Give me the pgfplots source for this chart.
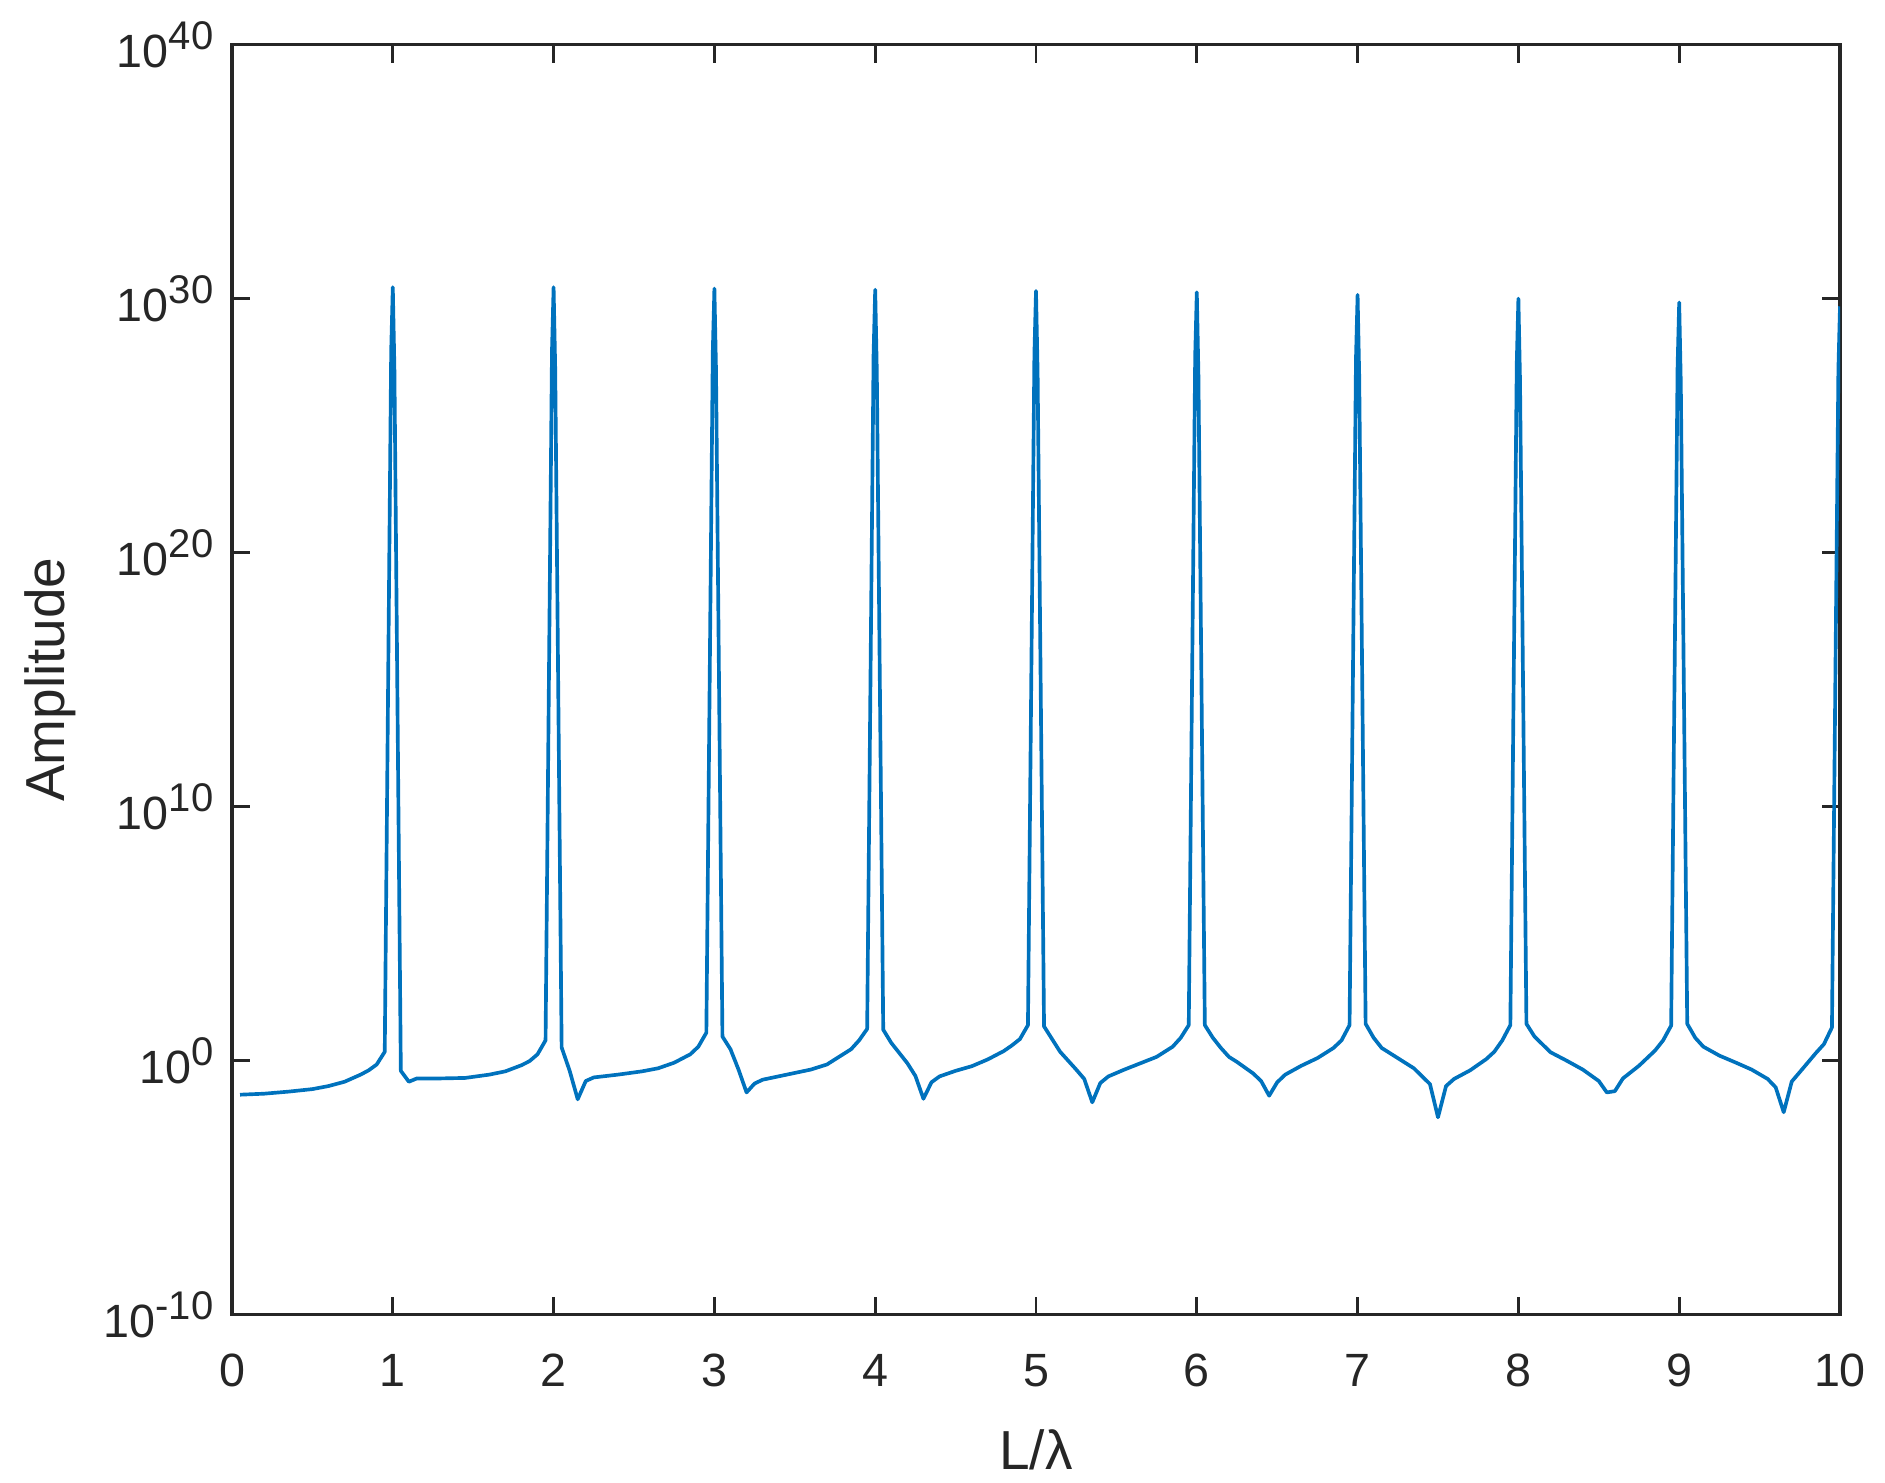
\documentclass[border=0pt]{standalone}
\usepackage{fontspec}
\setmainfont{Liberation Sans}
\usepackage{pgfplots}
\pgfplotsset{compat=1.18}
\definecolor{mblue}{rgb}{0,0.447,0.741}
\definecolor{axgray}{rgb}{0.15,0.15,0.15}
% MATLAB-like power-of-ten label
\newcommand{\ex}[1]{10\raisebox{5.2pt}{\fontsize{12}{12}\selectfont #1}}

\begin{document}
\begin{tikzpicture}
\begin{axis}[
  scale only axis,
  width=482.4pt, height=381pt,
  xmin=0, xmax=10, ymin=1e-10, ymax=1e40,
  ymode=log,
  xtick={0,1,...,10},
  xticklabels={0,1,2,3,4,5,6,7,8,9,10},
  ytick={1e-10,1e0,1e10,1e20,1e30,1e40},
  yticklabels={\ex{-10},\ex{0},\ex{10},\ex{20},\ex{30},\ex{40}},
  yminorticks=false,
  tick align=inside,
  major tick length=5.4pt,
  axis line style={axgray, line width=1pt},
  tick style={axgray, line width=0.8pt},
  ticklabel style={font=\fontsize{14}{14}\selectfont, text=axgray},
  xticklabel style={anchor=center, yshift=-16.8pt},
  yticklabel style={anchor=east, inner sep=0pt, xshift=-5.4pt},
  xlabel={L/λ}, ylabel={Amplitude},
  every axis x label/.style={at={(axis description cs:0.5,-0.1063)}, anchor=center,
    font=\fontsize{16.5}{16.5}\selectfont, text=axgray},
  every axis y label/.style={at={(axis description cs:-0.113,0.5)}, anchor=center, rotate=90,
    font=\fontsize{16.5}{16.5}\selectfont, text=axgray},
]
\addplot[mblue, line width=1.1pt, line join=round] table {
x y
0.05 0.0457
0.20 0.0501
0.35 0.0603
0.50 0.0759
0.60 0.1
0.70 0.148
0.80 0.282
0.85 0.417
0.90 0.708
0.95 2.24
0.99 8.9e27
1.00 2.82e30
1.01 1.8e27
1.05 0.398
1.10 0.148
1.15 0.200
1.30 0.200
1.45 0.209
1.60 0.282
1.70 0.380
1.80 0.661
1.85 0.955
1.90 1.78
1.95 6.31
1.99 9e27
2.00 2.82e30
2.01 1.8e27
2.05 3.31
2.10 0.398
2.15 0.0302
2.20 0.158
2.25 0.219
2.40 0.282
2.55 0.380
2.65 0.501
2.75 0.832
2.85 1.78
2.90 3.55
2.95 12.6
2.99 8e27
3.00 2.51e30
3.01 1.6e27
3.05 8.91
3.10 2.82
3.15 0.447
3.20 0.0562
3.25 0.126
3.30 0.178
3.45 0.282
3.60 0.447
3.70 0.708
3.80 1.78
3.85 2.82
3.90 6.31
3.95 17.8
3.99 7e27
4.00 2.24e30
4.01 1.4e27
4.05 16.6
4.10 5.01
4.15 2.00
4.20 0.794
4.25 0.251
4.30 0.0316
4.35 0.141
4.40 0.240
4.50 0.398
4.60 0.603
4.70 1.12
4.80 2.40
4.85 3.98
4.90 7.08
4.95 25.1
4.99 6.3e27
5.00 2.0e30
5.01 1.3e27
5.05 22.4
5.10 7.08
5.15 2.24
5.20 1.0
5.25 0.447
5.30 0.191
5.35 0.0229
5.40 0.132
5.45 0.240
5.55 0.447
5.65 0.794
5.75 1.41
5.85 3.55
5.90 7.94
5.95 25.1
5.99 5.6e27
6.00 1.78e30
6.01 1.1e27
6.05 25.1
6.10 7.94
6.15 3.16
6.20 1.41
6.25 0.891
6.35 0.316
6.40 0.158
6.45 0.0417
6.50 0.141
6.55 0.282
6.65 0.631
6.75 1.26
6.85 3.16
6.90 6.31
6.95 25.1
6.99 4.5e27
7.00 1.41e30
7.01 9e26
7.05 28.2
7.10 7.94
7.15 3.16
7.25 1.26
7.35 0.501
7.45 0.120
7.50 0.00589
7.55 0.1
7.60 0.191
7.70 0.417
7.80 1.15
7.85 2.24
7.90 6.31
7.95 25.1
7.99 3.2e27
8.00 1.0e30
8.01 6.3e26
8.05 28.2
8.10 8.91
8.20 2.14
8.30 1.0
8.40 0.447
8.50 0.158
8.55 0.0562
8.60 0.0631
8.65 0.200
8.75 0.631
8.85 2.51
8.90 6.31
8.95 24.0
8.99 2.2e27
9.00 7.08e29
9.01 4.5e26
9.05 28.2
9.10 7.94
9.15 3.55
9.25 1.58
9.35 0.851
9.45 0.447
9.55 0.191
9.60 0.0891
9.65 0.00933
9.70 0.151
9.75 0.355
9.85 2.00
9.90 4.47
9.95 20.4
9.99 1.6e27
10.00 5.01e29
};
\coordinate (sw) at (rel axis cs:0,0);
\coordinate (ne) at (rel axis cs:1,1);
\end{axis}
\path ([shift={(-69.6pt,-50.4pt)}]sw) rectangle ([shift={(13.5pt,13.4pt)}]ne);
\end{tikzpicture}
\end{document}
